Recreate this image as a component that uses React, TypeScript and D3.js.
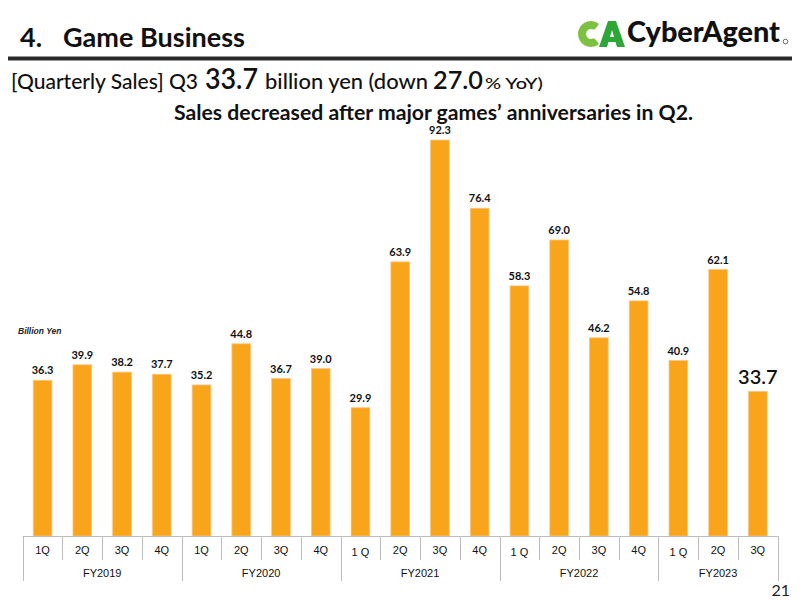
import React from "react";
import * as d3 from "d3";

// quarterly game business sales, billion yen
const fiscalYears = ["FY2019", "FY2020", "FY2021", "FY2022", "FY2023"];
const quarterLabels = [
  ["1Q", "2Q", "3Q", "4Q"],
  ["1Q", "2Q", "3Q", "4Q"],
  ["1 Q", "2Q", "3Q", "4Q"],
  ["1 Q", "2Q", "3Q", "4Q"],
  ["1 Q", "2Q", "3Q"],
];
const sales = [
  [36.3, 39.9, 38.2, 37.7],
  [35.2, 44.8, 36.7, 39.0],
  [29.9, 63.9, 92.3, 76.4],
  [58.3, 69.0, 46.2, 54.8],
  [40.9, 62.1, 33.7],
];

const W = 800;
const H = 600;
const plot = { left: 22.7, right: 777.7, base: 536 };
const barColor = "#F9A51B";
const axisColor = "#BDBDBD";
const uiFont = "Lato, 'Noto Sans', sans-serif";
const axisFont = "'Liberation Sans', Arial, sans-serif";

// logo mark: a thick ring open on the right for the C, a chunky A beside it
const cMark = d3
  .arc()
  .innerRadius(5)
  .outerRadius(13)
  .startAngle(0.78 * Math.PI)
  .endAngle(2.22 * Math.PI)
  .cornerRadius(2);

function Logo() {
  return (
    <g>
      <path d={cMark({} as any) ?? ""} transform="translate(591,34)" fill="#7CC242" />
      <path
        d="M599,47 L608,21 L616,21 L625,47 L617,47 L615.5,42 L608.5,42 L607,47 Z M610,37 L614,37 L612,30 Z"
        fill="#2FA637"
        fillRule="evenodd"
      />
      <text x={627} y={42} fontFamily={uiFont} fontWeight={900} fontSize={28} fill="#111" textLength={153} lengthAdjust="spacingAndGlyphs">
        CyberAgent
      </text>
      <circle cx={785.5} cy={41.5} r={2.3} fill="none" stroke="#444" strokeWidth={0.8} />
    </g>
  );
}

export default function App() {
  const rows = sales.flatMap((vals, yi) =>
    vals.map((v, qi) => ({
      key: `${fiscalYears[yi]}-${qi}`,
      year: yi,
      label: quarterLabels[yi][qi],
      value: v,
    }))
  );

  const x = d3
    .scaleBand<string>()
    .domain(rows.map((r) => r.key))
    .range([plot.left, plot.right])
    .paddingInner(0.53)
    .paddingOuter(0.265);

  const y = d3.scaleLinear().domain([0, 100]).range([plot.base, plot.base - 429]);

  const step = x.step();
  const x0 = x.range()[0];
  const last = rows.length - 1;

  // year group boundaries along the category axis
  const yearSpans = fiscalYears.map((fy, yi) => {
    const idx = rows.map((r, i) => (r.year === yi ? i : -1)).filter((i) => i >= 0);
    return { fy, start: x0 + idx[0] * step, end: x0 + (idx[idx.length - 1] + 1) * step };
  });

  const head = { fontFamily: uiFont, fill: "#111", lengthAdjust: "spacingAndGlyphs" as const };

  return (
    <svg width={W} height={H} style={{ position: "absolute", left: 0, top: 0, background: "#fff" }}>
      {/* header */}
      <text x={20} y={47} fontFamily={uiFont} fontWeight={700} fontSize={27} fill="#111">
        4.
      </text>
      <text x={63} y={47} {...head} fontWeight={700} fontSize={27} textLength={182}>
        Game Business
      </text>
      <rect x={8} y={56.5} width={784} height={4} fill="#2b2b2b" />

      <Logo />

      {/* headline */}
      <g fontWeight={500}>
        <text x={11} y={89} {...head} fontSize={21} textLength={187}>
          [Quarterly Sales] Q3
        </text>
        <text x={205} y={89} {...head} fontSize={28} fontWeight={600} textLength={53}>
          33.7
        </text>
        <text x={265} y={89} {...head} fontSize={21} textLength={163}>
          billion yen (down
        </text>
        <text x={433} y={89} {...head} fontSize={24} fontWeight={600} textLength={50}>
          27.0
        </text>
        <text x={485} y={89} {...head} fontSize={16} textLength={58}>
          % YoY)
        </text>
      </g>
      <text x={174} y={120} {...head} fontWeight={700} fontSize={20} textLength={519}>
        Sales decreased after major games’ anniversaries in Q2.
      </text>

      <text x={18} y={334} fontFamily={axisFont} fontStyle="italic" fontWeight={700} fontSize={8.5} fill="#222">
        Billion Yen
      </text>

      {/* bars */}
      {rows.map((r) => (
        <rect
          key={r.key}
          x={x(r.key)}
          y={y(r.value)}
          width={x.bandwidth()}
          height={plot.base - y(r.value)}
          fill={barColor}
          stroke="#FCC57E"
          strokeWidth={0.8}
        />
      ))}

      {/* value labels */}
      {rows.map((r, i) => (
        <text
          key={`v-${r.key}`}
          x={(x(r.key) ?? 0) + x.bandwidth() / 2}
          y={y(r.value) - (i === last ? 7 : 6)}
          textAnchor="middle"
          fontFamily={uiFont}
          fontWeight={i === last ? 600 : 700}
          fontSize={i === last ? 20 : 11}
          fill="#111"
        >
          {r.value.toFixed(1)}
        </text>
      ))}

      {/* category axis */}
      <g stroke={axisColor} strokeWidth={1}>
        <line x1={plot.left} x2={plot.right} y1={plot.base + 0.5} y2={plot.base + 0.5} />
        {d3.range(rows.length + 1).map((i) => {
          const xx = Math.round(x0 + i * step) + 0.5;
          return <line key={`t-${i}`} x1={xx} x2={xx} y1={plot.base} y2={560} />;
        })}
        {yearSpans.map((s, i) => (
          <line key={`y-${i}`} x1={Math.round(s.start) + 0.5} x2={Math.round(s.start) + 0.5} y1={plot.base} y2={581} />
        ))}
        <line x1={Math.round(plot.right) + 0.5} x2={Math.round(plot.right) + 0.5} y1={plot.base} y2={581} />
      </g>
      {rows.map((r, i) => (
        <text
          key={`q-${r.key}`}
          x={x0 + (i + 0.5) * step}
          y={r.label.includes(" ") ? 556 : 554}
          textAnchor="middle"
          fontFamily={axisFont}
          fontSize={11}
          fill="#111"
        >
          {r.label}
        </text>
      ))}
      {yearSpans.map((s) => (
        <text
          key={s.fy}
          x={(s.start + s.end) / 2}
          y={577}
          textAnchor="middle"
          fontFamily={axisFont}
          fontSize={11}
          fill="#111"
        >
          {s.fy}
        </text>
      ))}

      <text x={790} y={596} textAnchor="end" fontFamily={uiFont} fontSize={16} fill="#222">
        21
      </text>
    </svg>
  );
}
